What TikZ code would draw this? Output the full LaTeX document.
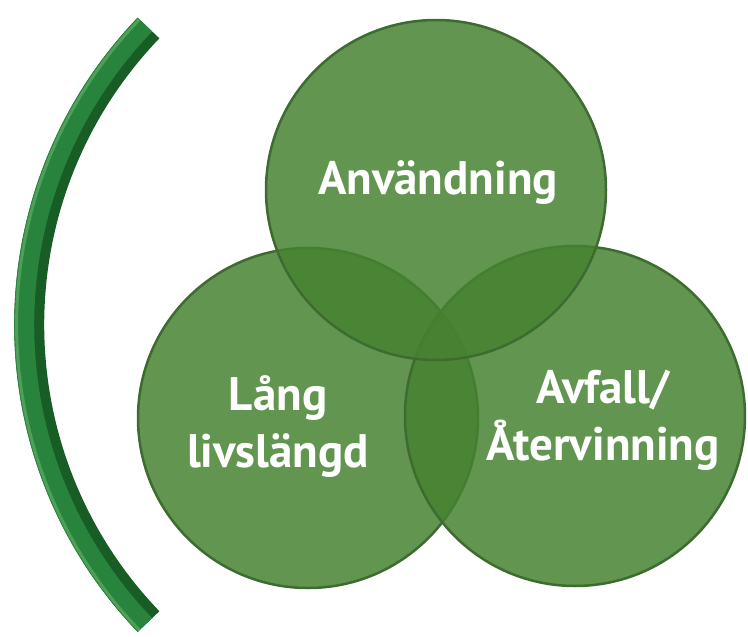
\documentclass[tikz,border=0pt]{standalone}
\usepackage{fontspec}
\setmainfont{PT Sans}
\definecolor{leaf}{RGB}{70,130,49}
\definecolor{rim}{RGB}{62,108,48}
\definecolor{bowdark}{RGB}{24,92,38}
\definecolor{bowmid}{RGB}{40,132,60}
\definecolor{bowlight}{RGB}{78,160,88}
\tikzset{
  disc/.style={circle, minimum size=340pt, inner sep=0pt, fill=leaf, fill opacity=0.85, draw=rim, draw opacity=1, line width=2.5pt},
  word/.style={text=white, font=\fontsize{47}{57}\selectfont\bfseries, align=center}
}
\begin{document}
\begin{tikzpicture}[x=1pt,y=-1pt]
\useasboundingbox (0,0) rectangle (748,637);
% the bow on the left
\draw[line width=30pt, bowdark] (148.5,28) arc[start angle=136.2, end angle=223.8, radius=428.8pt];
\draw[line width=20pt, bowmid] (144.9,24.5) arc[start angle=136.2, end angle=223.8, radius=433.8pt];
\draw[line width=3pt, bowlight] (139.4,19.3) arc[start angle=136.2, end angle=223.8, radius=441.4pt];
% the three discs
\node[disc] (life) at (308,418) {};
\node[disc] (waste) at (575,416) {};
\node[disc] (use) at (436,190) {};
\node[word] (usetext) at (438,183) {Användning};
\node[word] (lifetext) at (278,427) {Lång\\livslängd};
\node[word] (wastetext) at (603,420) {Avfall/\\Återvinning};
\end{tikzpicture}
\end{document}
